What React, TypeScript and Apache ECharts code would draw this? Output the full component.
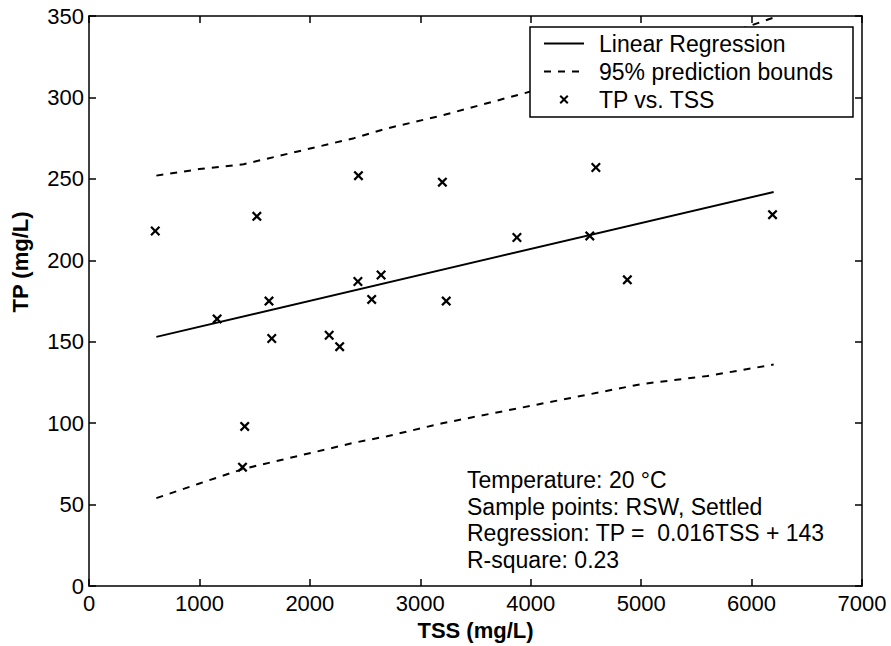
import React, { useEffect, useRef } from "react";
import * as echarts from "echarts";

const xTicks = { min: 0, max: 7000, interval: 1000 };
const yTicks = { min: 0, max: 350, interval: 50 };

const tssValues = [600, 1160, 1390, 1410, 1520, 1630, 1655, 2175, 2270, 2435, 2440, 2560, 2645, 3200, 3235, 3875, 4535, 4590, 4875, 6190];
const tpValues = [218, 164, 73, 98, 227, 175, 152, 154, 147, 187, 252, 176, 191, 248, 175, 214, 215, 257, 188, 228];

const regX = [610, 6200];
const regY = [153, 242];

const boundX = [610, 1000, 1400, 1900, 2400, 2700, 3200, 3800, 4400, 5000, 5600, 6200];
const upperY = [252, 256, 259, 267, 275, 281, 289, 300, 311, 323, 335, 349];
const lowerY = [54, 63, 72, 80, 88, 92, 100, 108, 116, 124, 129, 136];

const annotationLines = [
  "Temperature: 20 °C",
  "Sample points: RSW, Settled",
  "Regression: TP =  0.016TSS + 143",
  "R-square: 0.23",
];

const FONT = '"Liberation Sans", Arial, Helvetica, sans-serif';
const CROSS = "path://M0,1.6L1.6,0L5,3.4L8.4,0L10,1.6L6.6,5L10,8.4L8.4,10L5,6.6L1.6,10L0,8.4L3.4,5Z";

export default function App() {
  const ref = useRef<HTMLDivElement>(null);
  useEffect(() => {
    if (!ref.current) return;
    const chart = echarts.init(ref.current, null, { renderer: "svg" });
    const axisCommon = {
      axisLine: { show: true, onZero: false, lineStyle: { color: "#000", width: 1.5 } },
      axisTick: { show: true, inside: true, length: 7, lineStyle: { color: "#000", width: 1.5 } },
      splitLine: { show: false },
    };
    const zip = (xs: number[], ys: number[]) => xs.map((x, i) => [x, ys[i]]);
    chart.setOption({
      animation: false,
      backgroundColor: "#fff",
      textStyle: { fontFamily: FONT },
      grid: { left: 89, right: 29, top: 16, bottom: 59 },
      xAxis: [
        {
          type: "value",
          ...xTicks,
          position: "bottom",
          ...axisCommon,
          axisLabel: {
            color: "#000",
            fontSize: 22,
            fontFamily: FONT,
            margin: 6,
            formatter: (v: number) => String(v),
          },
          name: "TSS (mg/L)",
          nameLocation: "middle",
          nameGap: 29,
          nameTextStyle: { color: "#000", fontSize: 22, fontWeight: "bold", fontFamily: FONT },
        },
        {
          type: "value",
          ...xTicks,
          position: "top",
          ...axisCommon,
          axisLabel: { show: false },
        },
      ],
      yAxis: [
        {
          type: "value",
          ...yTicks,
          position: "left",
          ...axisCommon,
          axisLabel: { color: "#000", fontSize: 22, fontFamily: FONT, margin: 5 },
        },
        {
          type: "value",
          ...yTicks,
          position: "right",
          ...axisCommon,
          axisLabel: { show: false },
        },
      ],
      legend: {
        orient: "vertical",
        left: 530,
        top: 27,
        backgroundColor: "#fff",
        borderColor: "#000",
        borderWidth: 1.5,
        borderRadius: 0,
        padding: [5, 20, 6, 13],
        itemGap: 5,
        itemWidth: 40,
        itemHeight: 9,
        textStyle: { color: "#000", fontSize: 23, fontFamily: FONT, padding: [0, 0, 0, 10] },
        data: [
          { name: "Linear Regression", itemStyle: { opacity: 0 } },
          { name: "95% prediction bounds", itemStyle: { opacity: 0 } },
          { name: "TP vs. TSS" },
        ],
      },
      graphic: [
        {
          type: "text",
          x: 20,
          y: 262,
          rotation: Math.PI / 2,
          style: {
            text: "TP (mg/L)",
            font: `bold 22px ${FONT}`,
            fill: "#000",
            textAlign: "center",
            textVerticalAlign: "middle",
          },
        },
        {
          type: "text",
          x: 467,
          y: 467,
          style: {
            text: annotationLines.join("\n"),
            font: `23px ${FONT}`,
            lineHeight: 26.5,
            fill: "#000",
            textAlign: "left",
            textVerticalAlign: "top",
          },
        },
      ],
      series: [
        {
          name: "Linear Regression",
          type: "line",
          data: zip(regX, regY),
          symbol: "none",
          lineStyle: { color: "#000", width: 2 },
          itemStyle: { color: "#000" },
        },
        {
          name: "95% prediction bounds",
          type: "line",
          data: zip(boundX, upperY),
          symbol: "none",
          lineStyle: { color: "#000", width: 2, type: [7, 7] },
          itemStyle: { color: "#000" },
        },
        {
          name: "95% prediction bounds",
          type: "line",
          data: zip(boundX, lowerY),
          symbol: "none",
          lineStyle: { color: "#000", width: 2, type: [7, 7] },
          itemStyle: { color: "#000" },
        },
        {
          name: "TP vs. TSS",
          type: "scatter",
          data: zip(tssValues, tpValues),
          symbol: CROSS,
          symbolSize: 10,
          itemStyle: { color: "#000", opacity: 1 },
        },
      ],
    });
    return () => chart.dispose();
  }, []);
  return (
    <div
      ref={ref}
      style={{ position: "fixed", left: 0, top: 0, width: 891, height: 646, background: "#fff" }}
    />
  );
}
